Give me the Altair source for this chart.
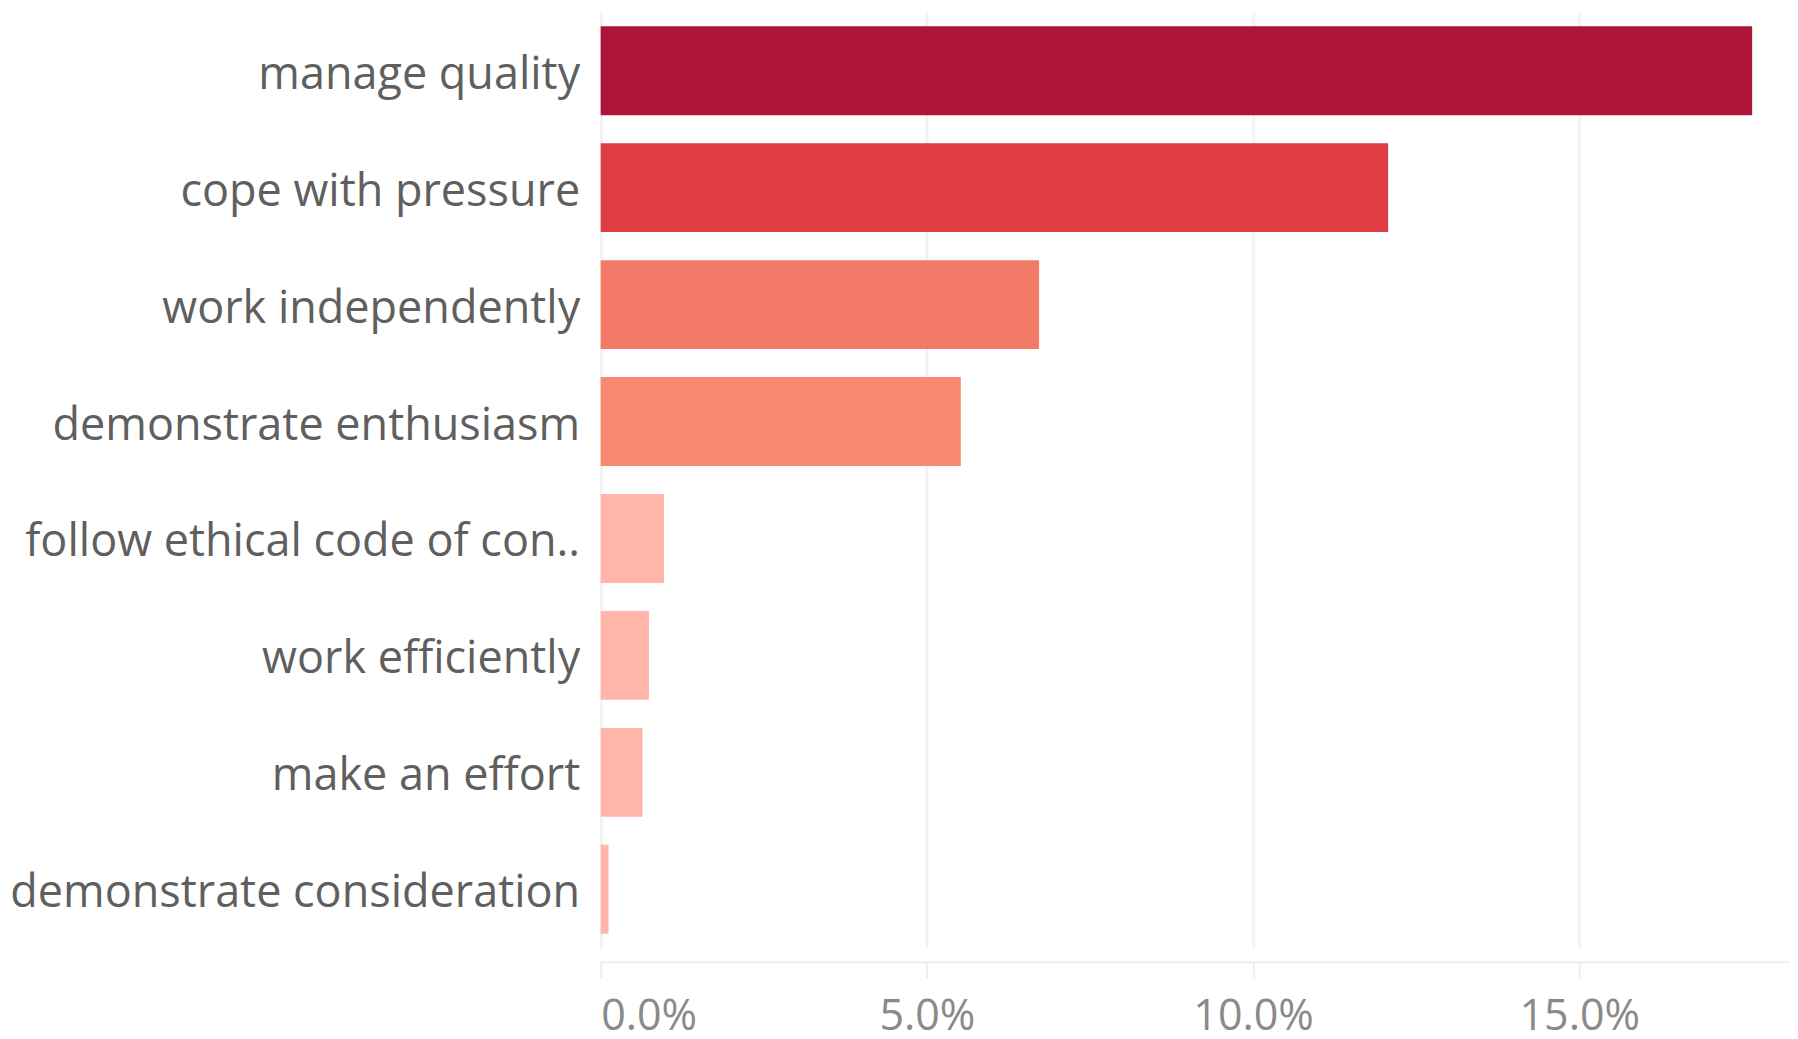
import altair as alt
import pandas as pd

skills = [
    "manage quality",
    "cope with pressure",
    "work independently",
    "demonstrate enthusiasm",
    "follow ethical code of con..",
    "work efficiently",
    "make an effort",
    "demonstrate consideration",
]
shares = [0.1765, 0.1207, 0.0672, 0.0552, 0.0097, 0.0074, 0.0064, 0.0012]
bar_colors = ["#AE1338", "#E03D44", "#F47A68", "#F78A71",
              "#FFB6A9", "#FFB6A9", "#FFB6A9", "#FFB6A9"]

df = pd.DataFrame({"skill": skills, "share": shares, "color": bar_colors})

bars = alt.Chart(df).mark_bar().encode(
    y=alt.Y(
        "skill:N",
        sort=skills,
        title=None,
        scale=alt.Scale(paddingInner=0.24, paddingOuter=0.12),
        axis=alt.Axis(
            ticks=False,
            domain=False,
            labelFont="Open Sans",
            labelFontSize=45,
            labelColor="#5f5f5f",
            labelPadding=21,
            labelOffset=4,
            labelLimit=800,
        ),
    ),
    x=alt.X(
        "share:Q",
        title=None,
        scale=alt.Scale(domain=[0, 0.1823], nice=False),
        axis=alt.Axis(
            values=[0, 0.05, 0.10, 0.15],
            format=".1%",
            offset=14,
            tickSize=16,
            tickColor="#eeeeee",
            tickWidth=2,
            domainColor="#eeeeee",
            domainWidth=2,
            gridColor="#f2f2f2",
            gridWidth=3,
            labelFont="Open Sans",
            labelFontSize=43,
            labelColor="#8a8a8a",
            labelPadding=18,
            labelFlush=True,
        ),
    ),
    color=alt.Color("color:N", scale=None, legend=None),
)

chart = bars.properties(
    width=1190,
    height=936,
    autosize=alt.AutoSizeParams(type="none"),
    padding={"left": 593, "top": 4, "right": 0, "bottom": 83},
).configure_view(stroke=None)

chart.save("out.html", embed_options={"renderer": "svg", "actions": False})
